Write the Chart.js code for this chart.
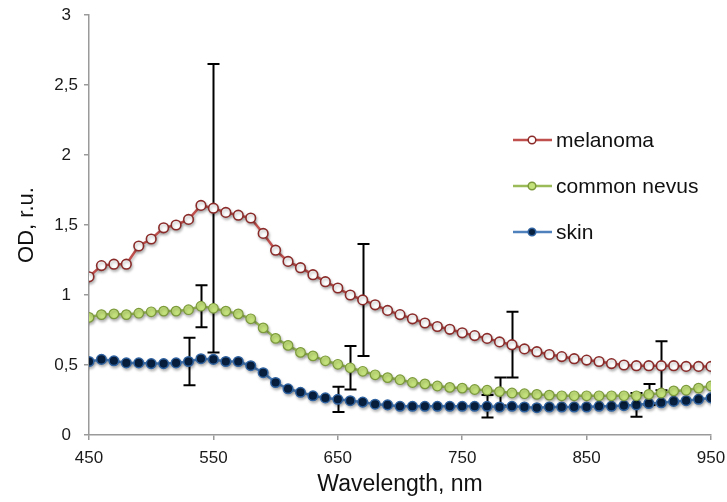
<!DOCTYPE html>
<html>
<head>
<meta charset="utf-8">
<title>OD spectra</title>
<script src="https://cdn.jsdelivr.net/npm/chart.js@4.4.1/dist/chart.umd.min.js"></script>
<style>
    html, body { margin: 0; padding: 0; background: #ffffff; }
    #wrap { width: 727px; height: 502px; }
</style>
</head>
<body>
<div id="wrap"><canvas id="chart" width="727" height="502"></canvas></div>
<script>
// Wavelength grid (nm)
const wavelengths = [
    450, 460, 470, 480, 490, 500, 510, 520, 530, 540,
    550, 560, 570, 580, 590, 600, 610, 620, 630, 640,
    650, 660, 670, 680, 690, 700, 710, 720, 730, 740,
    750, 760, 770, 780, 790, 800, 810, 820, 830, 840,
    850, 860, 870, 880, 890, 900, 910, 920, 930, 940, 950
];

// OD values
const melanoma = [
    1.13, 1.21, 1.22, 1.22, 1.35, 1.40, 1.48, 1.50, 1.54, 1.64,
    1.62, 1.59, 1.57, 1.55, 1.44, 1.32, 1.24, 1.195, 1.145, 1.095,
    1.05, 1.00, 0.965, 0.93, 0.89, 0.86, 0.83, 0.80, 0.775, 0.755,
    0.73, 0.71, 0.69, 0.665, 0.645, 0.615, 0.595, 0.575, 0.56, 0.545,
    0.535, 0.525, 0.51, 0.50, 0.495, 0.495, 0.495, 0.495, 0.49, 0.49, 0.49
];
const nevus = [
    0.84, 0.86, 0.865, 0.86, 0.87, 0.88, 0.885, 0.885, 0.895, 0.92,
    0.905, 0.885, 0.865, 0.83, 0.765, 0.69, 0.64, 0.59, 0.565, 0.53,
    0.505, 0.48, 0.455, 0.43, 0.41, 0.395, 0.375, 0.365, 0.35, 0.34,
    0.335, 0.325, 0.32, 0.31, 0.30, 0.295, 0.29, 0.285, 0.28, 0.28,
    0.28, 0.28, 0.28, 0.28, 0.28, 0.29, 0.30, 0.315, 0.32, 0.335, 0.35
];
const skin = [
    0.525, 0.54, 0.53, 0.515, 0.515, 0.51, 0.51, 0.515, 0.525, 0.545,
    0.54, 0.525, 0.525, 0.495, 0.445, 0.375, 0.33, 0.305, 0.28, 0.265,
    0.255, 0.245, 0.235, 0.22, 0.215, 0.205, 0.205, 0.205, 0.205, 0.205,
    0.205, 0.205, 0.205, 0.20, 0.205, 0.20, 0.195, 0.20, 0.20, 0.20,
    0.20, 0.205, 0.205, 0.21, 0.215, 0.225, 0.23, 0.24, 0.245, 0.255, 0.265
];

// Error bars: [wavelength, +/- value]
const melanomaErr = [[550, 1.03], [670, 0.40], [790, 0.235], [910, 0.175]];
const nevusErr = [[540, 0.15], [660, 0.155], [780, 0.10], [900, 0.075]];
const skinErr = [[530, 0.17], [650, 0.09], [770, 0.08], [890, 0.085]];

const xTicks = [450, 550, 650, 750, 850, 950];

const FONT = "'Liberation Sans', Arial, sans-serif";

function toPoints(values) {
    return wavelengths.map((w, i) => ({ x: w, y: values[i] }));
}

// error bars go under the markers
const errorBarPlugin = {
    id: 'errorBars',
    beforeDatasetsDraw(chart) {
        const ctx = chart.ctx;
        const xs = chart.scales.x;
        const ys = chart.scales.y;
        ctx.save();
        ctx.strokeStyle = '#000';
        ctx.lineWidth = 2;
        chart.data.datasets.forEach(ds => {
            (ds.errors || []).forEach(([w, e]) => {
                const idx = wavelengths.indexOf(w);
                const v = ds.data[idx].y;
                const px = Math.round(xs.getPixelForValue(w)) + 0.5;
                const top = ys.getPixelForValue(v + e);
                const bot = ys.getPixelForValue(v - e);
                ctx.beginPath();
                ctx.moveTo(px, top);
                ctx.lineTo(px, bot);
                ctx.moveTo(px - 6, top);
                ctx.lineTo(px + 6, top);
                ctx.moveTo(px - 6, bot);
                ctx.lineTo(px + 6, bot);
                ctx.stroke();
            });
        });
        ctx.restore();
    }
};

// soft drop shadow on the series, like the original
const shadowPlugin = {
    id: 'seriesShadow',
    beforeDatasetDraw(chart) {
        const ctx = chart.ctx;
        ctx.save();
        ctx.shadowColor = 'rgba(0, 0, 0, 0.28)';
        ctx.shadowBlur = 3;
        ctx.shadowOffsetX = 1;
        ctx.shadowOffsetY = 2;
    },
    afterDatasetDraw(chart) {
        chart.ctx.restore();
    }
};

// legend sitting inside the plot, on the right
const legendPlugin = {
    id: 'innerLegend',
    afterDraw(chart) {
        const ctx = chart.ctx;
        const rows = [140, 186, 232];
        ctx.save();
        chart.data.datasets.forEach((ds, i) => {
            const y = rows[i];
            ctx.strokeStyle = ds.borderColor;
            ctx.lineWidth = 2.5;
            ctx.beginPath();
            ctx.moveTo(513, y);
            ctx.lineTo(552, y);
            ctx.stroke();
            ctx.beginPath();
            ctx.arc(532, y, 3.8, 0, Math.PI * 2);
            ctx.fillStyle = ds.pointBackgroundColor;
            ctx.fill();
            ctx.lineWidth = 1.5;
            ctx.strokeStyle = ds.pointBorderColor;
            ctx.stroke();
            ctx.fillStyle = '#111';
            ctx.font = '21px ' + FONT;
            ctx.textBaseline = 'middle';
            ctx.textAlign = 'left';
            ctx.fillText(ds.label, 556, y + 1);
        });
        ctx.restore();
    }
};

document.addEventListener('DOMContentLoaded', () => {
    const ctx = document.getElementById('chart').getContext('2d');

    new Chart(ctx, {
        type: 'line',
        data: {
            datasets: [
                {
                    label: 'melanoma',
                    data: toPoints(melanoma),
                    errors: melanomaErr,
                    borderColor: '#c0504d',
                    borderWidth: 2.5,
                    pointBackgroundColor: '#ffffff',
                    pointBorderColor: '#8a2b29',
                    pointBorderWidth: 1.6,
                    pointRadius: 4.8,
                    tension: 0
                },
                {
                    label: 'common nevus',
                    data: toPoints(nevus),
                    errors: nevusErr,
                    borderColor: '#9bbb59',
                    borderWidth: 2.5,
                    pointBackgroundColor: '#c4e27c',
                    pointBorderColor: '#7c9a3c',
                    pointBorderWidth: 1.2,
                    pointRadius: 4.8,
                    tension: 0
                },
                {
                    label: 'skin',
                    data: toPoints(skin),
                    errors: skinErr,
                    borderColor: '#4f81bd',
                    borderWidth: 2.5,
                    pointBackgroundColor: '#08203f',
                    pointBorderColor: '#2f62a0',
                    pointBorderWidth: 1.5,
                    pointRadius: 4.8,
                    tension: 0
                }
            ]
        },
        options: {
            responsive: false,
            animation: false,
            devicePixelRatio: 1,
            layout: { padding: { top: 15, right: 16, left: 0, bottom: 0 } },
            plugins: {
                legend: { display: false },
                tooltip: { enabled: false }
            },
            scales: {
                x: {
                    type: 'linear',
                    min: 450,
                    max: 950,
                    afterFit: (scale) => {
                        scale.height = 67;
                        scale.paddingLeft = 0;
                        scale.paddingRight = 0;
                    },
                    afterBuildTicks: (scale) => {
                        scale.ticks = xTicks.map(v => ({ value: v }));
                    },
                    ticks: {
                        color: '#1a1a1a',
                        font: { family: FONT, size: 17 },
                        padding: 8,
                        maxRotation: 0
                    },
                    grid: {
                        drawOnChartArea: false,
                        drawTicks: true,
                        tickLength: 5,
                        color: '#9a9a9a',
                        lineWidth: 1.5
                    },
                    border: { color: '#9a9a9a', width: 1.5 },
                    title: {
                        display: true,
                        text: 'Wavelength, nm',
                        color: '#111',
                        font: { family: FONT, size: 23 },
                        padding: { top: 0, bottom: 4 }
                    }
                },
                y: {
                    min: 0,
                    max: 3,
                    afterFit: (scale) => {
                        scale.width = 89;
                        scale.paddingTop = 0;
                        scale.paddingBottom = 0;
                    },
                    ticks: {
                        stepSize: 0.5,
                        color: '#1a1a1a',
                        font: { family: FONT, size: 17 },
                        padding: 6,
                        crossAlign: 'center',
                        callback: (v) => String(v).replace('.', ',')
                    },
                    grid: {
                        drawOnChartArea: false,
                        drawTicks: true,
                        tickLength: 5,
                        color: '#9a9a9a',
                        lineWidth: 1.5
                    },
                    border: { color: '#9a9a9a', width: 1.5 },
                    title: {
                        display: true,
                        text: 'OD, r.u.',
                        color: '#111',
                        font: { family: FONT, size: 22 },
                        padding: { top: 14, bottom: 0 }
                    }
                }
            }
        },
        plugins: [errorBarPlugin, shadowPlugin, legendPlugin]
    });
});
</script>
</body>
</html>
